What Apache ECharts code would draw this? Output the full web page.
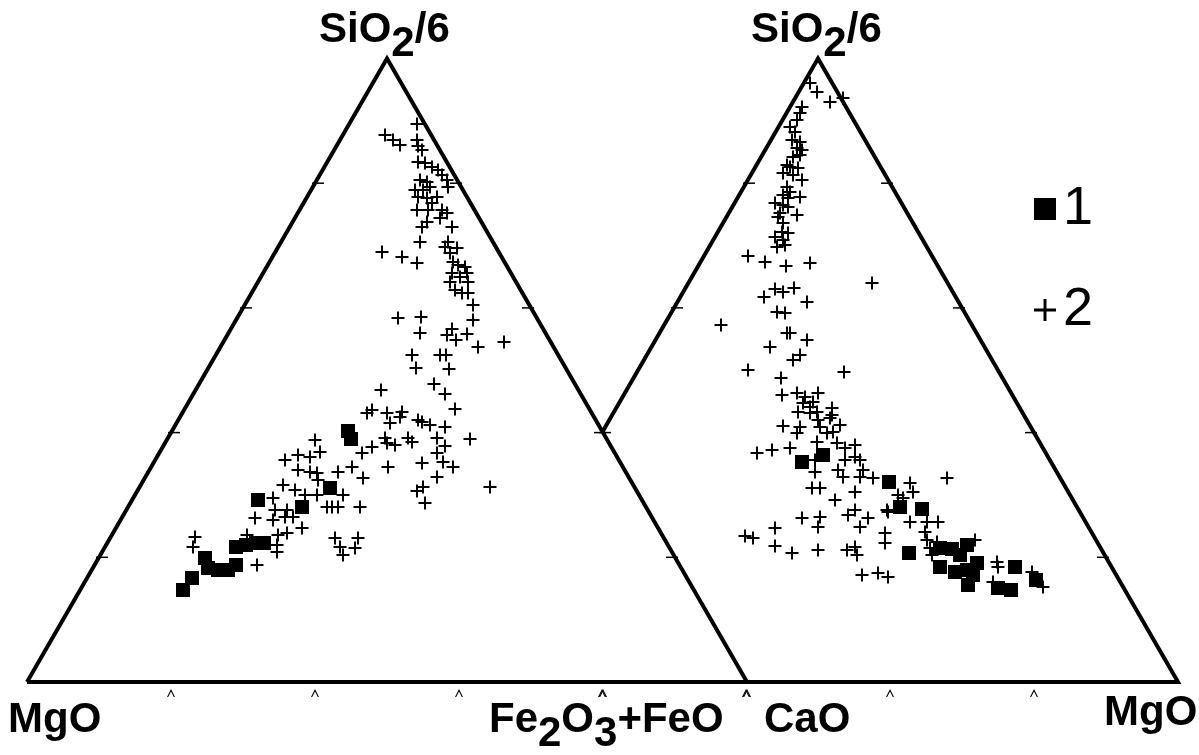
<!DOCTYPE html>
<html><head><meta charset="utf-8">
<script src="https://cdn.jsdelivr.net/npm/echarts@6/dist/echarts.min.js"></script>
<style>html,body{margin:0;padding:0;background:#fff}#c{width:1199px;height:755px}</style>
</head><body><div id="c"></div>
<script>
// Diagram units: origin at the left MgO vertex, triangle side = 720 units, y upward.
const leftTriangle  = [[0,0],[720,0],[360,623.5]];   // MgO, Fe2O3+FeO, SiO2/6
const rightTriangle = [[431,0],[1151,0],[791,623.5]]; // CaO, MgO, SiO2/6
const tickFractions = [0.2,0.4,0.6,0.8];

const seriesNames = ['1','2'];
const apexLabel   = [['SiO',0],['2',1],['/6',0]];
const baseLabels  = {
  mgoLeft:  [['MgO',0]],
  fe:       [['Fe',0],['2',1],['O',0],['3',1],['+FeO',0]],
  cao:      [['CaO',0]],
  mgoRight: [['MgO',0]]
};

// group 1 (filled squares)
const squaresLeft = [[156,92],[165,104],[178,124],[181,114],[191,112],[201,112],[209,117],
  [209,135],[219,137],[229,139],[237,139],[231,182],[275,175],[303,194],[321,251],[324,243]];
const squaresRight = [[775,220],[796,227],[862,200],[873,175],[882,129],[895,173],[913,134],
  [925,133],[940,137],[933,127],[913,115],[928,110],[940,112],[950,119],[946,107],[941,97],
  [988,115],[971,94],[984,92],[1009,102]];

// group 2 (crosses)
const crossesLeft = [[390,558],[358,547],[366,542],[373,537],[390,542],[391,536],[395,532],[391,520],
  [398,519],[405,515],[411,512],[415,507],[393,502],[400,500],[420,502],[421,495],[388,492],[396,492],
  [403,495],[391,485],[400,484],[410,485],[405,479],[390,472],[401,472],[415,472],[420,469],[413,464],
  [400,460],[395,455],[425,455],[393,440],[355,430],[375,425],[390,419],[421,440],[418,435],[430,434],
  [423,429],[426,420],[431,417],[438,415],[440,409],[425,409],[433,405],[441,400],[423,400],[428,392],
  [435,389],[441,389],[446,377],
  [371,364],[394,365],[446,362],[393,349],[425,353],[420,347],[429,342],[440,348],[451,335],[477,340],
  [385,327],[413,327],[419,327],[389,314],[422,313],[407,298],[418,288],[354,292],[428,273],[340,269],
  [345,272],[360,269],[375,270],[373,265],[363,259],[391,262],[395,260],[403,257],[418,255],[410,244],
  [443,243],[358,244],[381,244],[385,240],[345,235],[418,236],
  [288,242],[258,222],[271,227],[283,225],[293,230],[271,212],[283,210],[290,209],[291,202],[311,210],
  [325,215],[335,229],[336,204],[256,197],[268,192],[278,187],[290,187],[316,187],[246,184],[300,175],
  [305,175],[311,175],[333,175],[228,164],[248,172],[260,172],[246,162],[258,165],[266,165],[275,154],
  [260,149],[251,147],[168,145],[166,135],[220,147],[250,137],[250,130],[230,117],[308,144],[313,135],
  [316,127],[331,144],[328,134],
  [360,239],[368,237],[410,229],[416,220],[426,215],[395,219],[361,215],[410,205],[396,195],[390,191],
  [398,179],[463,195]];
const crossesRight = [[783,599],[790,590],[803,580],[816,584],[775,575],[773,569],[770,562],[763,555],
  [768,550],[765,542],[773,540],[770,534],[775,532],[766,525],[773,527],[760,517],[763,515],[771,514],
  [756,509],[766,507],[775,502],[760,495],[763,490],[756,487],[761,484],[773,485],[748,479],[756,477],
  [761,475],[753,469],[751,465],[770,467],[756,459],[755,450],[761,449],[748,445],[756,442],[750,435],
  [758,437],[721,426],[738,420],[759,416],[783,419],[845,399],[748,393],[756,390],[767,394],[737,385],
  [780,380],[750,370],[758,369],[694,357],[760,349],[763,349],[780,342],[743,335],[766,322],[773,327],
  [721,312],[754,304],[817,310],[755,287],[770,289],[778,285],[791,289],[776,279],[783,275],[771,270],
  [790,270],[805,274],[805,267],
  [786,280],[783,269],[791,262],[803,264],[756,256],[773,255],[770,249],[793,255],[813,257],[800,249],
  [806,250],[790,240],[810,239],[818,234],[828,237],[730,229],[745,232],[763,234],[788,222],[818,222],
  [828,225],[833,222],[811,212],[816,205],[836,212],[833,205],[846,204],[788,210],[785,194],[793,194],
  [828,190],[808,182],[861,170],[828,172],[821,167],[841,164],[775,164],[793,165],[791,155],[748,154],
  [833,155],[858,149],[858,139],[718,146],[726,144],[748,136],[765,129],[791,132],[820,132],[828,135],
  [830,127],
  [883,199],[886,190],[920,204],[871,187],[876,184],[860,172],[883,160],[900,160],[911,160],[898,150],
  [900,142],[910,140],[903,134],[948,142],[905,127],[970,120],[971,115],[861,105],[966,100],[1005,110],
  [1016,95],[835,107],[851,109]];

// ---------- geometry helpers ----------
function lerp(a,b,t){return [a[0]+(b[0]-a[0])*t, a[1]+(b[1]-a[1])*t];}
function intersect(p1,p2,p3,p4){
  const d=(p1[0]-p2[0])*(p3[1]-p4[1])-(p1[1]-p2[1])*(p3[0]-p4[0]);
  const a=p1[0]*p2[1]-p1[1]*p2[0], b=p3[0]*p4[1]-p3[1]*p4[0];
  return [(a*(p3[0]-p4[0])-(p1[0]-p2[0])*b)/d,(a*(p3[1]-p4[1])-(p1[1]-p2[1])*b)/d];
}
const [LA,LB,LC]=leftTriangle, [RA,RB,RC]=rightTriangle;
const cut = intersect(LB,LC,RA,RC);
const leftOutline  = [LA,LB,LC,LA];
const rightOutline = [cut,RC,RB,RA];

const chevron = 'path://M0,8 L4,0 L8,8 L6.8,8 L4,2.4 L1.2,8 Z';
const dash = 'rect';
const ticks = [];
tickFractions.forEach(f=>{
  [[LA,LB],[RA,RB]].forEach(([p,q])=>{
    ticks.push({value:lerp(p,q,f), symbol:chevron, symbolSize:[8,8], symbolOffset:[0,11]});
  });
  [[LA,LC,1],[LB,LC,-1],[RB,RC,-1]].forEach(([p,q,s])=>{
    ticks.push({value:lerp(p,q,f), symbol:dash, symbolSize:[12,1.5], symbolOffset:[s*3,0]});
  });
  const pr = lerp(RA,RC,f);
  if (pr[1] >= cut[1]-1) ticks.push({value:pr, symbol:dash, symbolSize:[12,1.5], symbolOffset:[3,0]});
});
ticks.push({value:LB, symbol:chevron, symbolSize:[8,8], symbolOffset:[0,11]});

const plusPath = 'path://M5.5,0 H7.5 V5.5 H13 V7.5 H7.5 V13 H5.5 V7.5 H0 V5.5 H5.5 Z';
const plusLegend = 'path://M8,0 H10.5 V8 H18.5 V10.5 H10.5 V18.5 H8 V10.5 H0 V8 H8 Z';

// ---------- labels ----------
const FONT_FAMILY = '"Liberation Sans", Arial, sans-serif';
const LABEL_SIZE = 42;
const mctx = document.createElement('canvas').getContext('2d');
function label(tokens, left, capTop){
  const font = 'bold ' + LABEL_SIZE + 'px ' + FONT_FAMILY;
  mctx.font = font;
  let x = left; const els = [];
  tokens.forEach(([t,sub])=>{
    els.push({type:'text', x:x, y:capTop - 0.13*LABEL_SIZE + (sub?14:0), silent:true,
      style:{text:t, font:font, fill:'#000'}});
    x += mctx.measureText(t).width;
  });
  return els;
}
const graphics = [].concat(
  label(apexLabel, 319, 15),
  label(apexLabel, 751, 15),
  label(baseLabels.mgoLeft, 8, 705),
  label(baseLabels.fe, 489, 705),
  label(baseLabels.cao, 764, 705),
  label(baseLabels.mgoRight, 1104, 698)
);

const chart = echarts.init(document.getElementById('c'), null, {renderer:'canvas'});
chart.setOption({
  animation:false,
  backgroundColor:'#fff',
  grid:{left:0,right:0,top:0,bottom:0},
  xAxis:{type:'value', min:-27, max:1172, show:false},
  yAxis:{type:'value', min:-73, max:682, show:false},
  legend:{
    orient:'vertical', left:1029, top:177, itemWidth:22, itemHeight:22, itemGap:47,
    selectedMode:false,
    textStyle:{fontSize:54, fontFamily:FONT_FAMILY, color:'#000', lineHeight:50, padding:[0,0,0,2]},
    data:[{name:seriesNames[0], icon:'rect'},{name:seriesNames[1], icon:plusLegend}]
  },
  graphic: graphics,
  series:[
    {type:'line', data:leftOutline, symbol:'none', silent:true, z:1,
     lineStyle:{color:'#000', width:4, join:'miter'}},
    {type:'line', data:rightOutline, symbol:'none', silent:true, z:1,
     lineStyle:{color:'#000', width:4, join:'miter'}},
    {type:'scatter', data:ticks, silent:true, z:1, itemStyle:{color:'#000', opacity:1}},
    {name:seriesNames[1], type:'scatter', data:crossesLeft.concat(crossesRight), symbol:plusPath,
     symbolSize:13, z:3, itemStyle:{color:'#000', opacity:1}},
    {name:seriesNames[0], type:'scatter', data:squaresLeft.concat(squaresRight), symbol:'rect',
     symbolSize:14, z:4, itemStyle:{color:'#000', opacity:1}}
  ]
});
</script></body></html>
